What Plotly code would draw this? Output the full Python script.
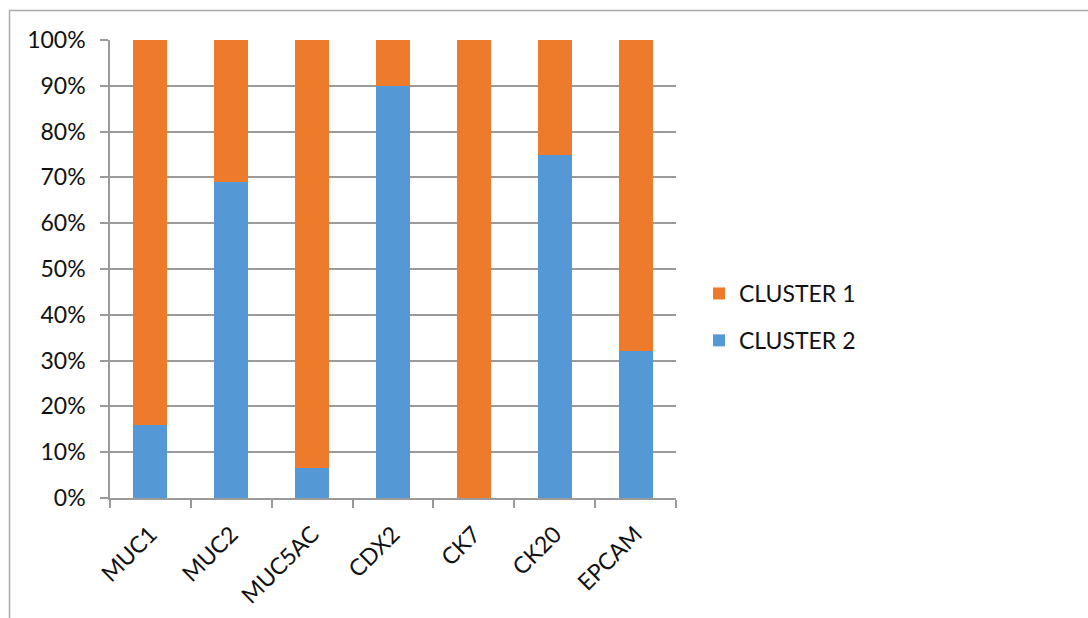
import plotly.graph_objects as go

markers = ["MUC1", "MUC2", "MUC5AC", "CDX2", "CK7", "CK20", "EPCAM"]
cluster2 = [16, 69, 6.5, 90, 0, 75, 32]
cluster1 = [84, 31, 93.5, 10, 100, 25, 68]

ORANGE = "#EE7A2C"
BLUE = "#5598D6"
GRID = "#9A9A9A"
FONT = "Lato, 'Open Sans', sans-serif"
FS = 23

fig = go.Figure()
fig.add_trace(go.Bar(x=markers, y=cluster2, name="CLUSTER 2",
                     marker=dict(color=BLUE, line=dict(width=0)),
                     legendgroup="c2", legendrank=2))
fig.add_trace(go.Bar(x=markers, y=cluster1, name="CLUSTER 1",
                     marker=dict(color=ORANGE, line=dict(width=0)),
                     legendgroup="c1", legendrank=1))

W, H = 1088, 618
L, R, T, B = 110, 1088 - 676, 40, 618 - 498
pw, ph = W - L - R, H - T - B

def px_x(x):
    return (x - L) / pw

def px_y(y):
    return (H - B - y) / ph

fig.update_layout(
    width=W, height=H,
    margin=dict(l=L, r=R, t=T, b=B, pad=0),
    barmode="stack", barnorm="percent", bargap=0.58,
    plot_bgcolor="white", paper_bgcolor="white",
    font=dict(family=FONT, size=FS, color="#111111"),
    legend=dict(x=px_x(699), y=px_y(317), xanchor="left", yanchor="middle",
                traceorder="grouped", tracegroupgap=14,
                font=dict(family=FONT, size=FS, color="#111111"),
                bgcolor="rgba(0,0,0,0)"),
    showlegend=True,
    shapes=[dict(type="rect", xref="paper", yref="paper",
                 x0=px_x(9.5), x1=px_x(1120), y0=px_y(660), y1=px_y(10.5),
                 line=dict(color="#ABABAB", width=1.5), fillcolor="rgba(0,0,0,0)",
                 layer="below")],
)

fig.update_yaxes(range=[0, 100], dtick=10, ticksuffix="%",
                 showgrid=True, gridcolor=GRID, gridwidth=1.5,
                 showline=True, linecolor=GRID, linewidth=1.5,
                 ticks="outside", ticklen=8, tickcolor=GRID, tickwidth=1.5,
                 ticklabelstandoff=10, automargin=False,
                 zeroline=False, tickfont=dict(size=FS))
fig.update_xaxes(showline=True, linecolor=GRID, linewidth=1.5,
                 ticks="outside", tickson="boundaries", ticklen=8,
                 tickcolor=GRID, tickwidth=1.5, tickangle=-45,
                 ticklabelstandoff=12, automargin=False,
                 showgrid=False, tickfont=dict(size=FS))

fig.write_html("out.html")
